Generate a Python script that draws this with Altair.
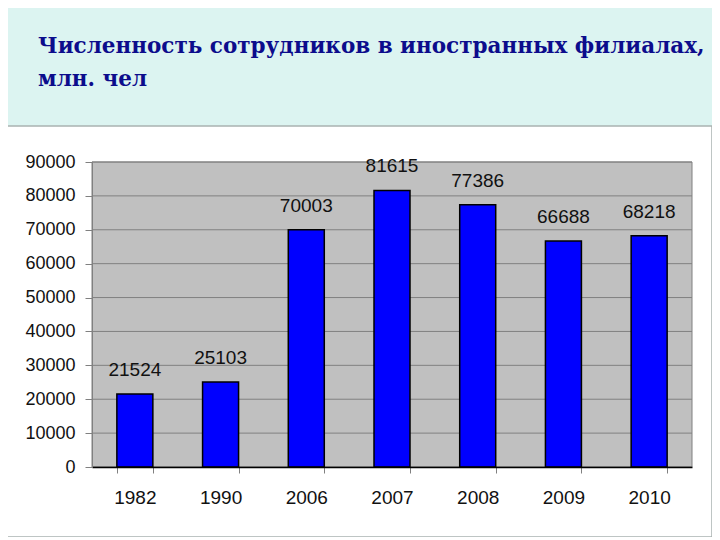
import pandas as pd
import altair as alt

years = ["1982", "1990", "2006", "2007", "2008", "2009", "2010"]
employees = [21524, 25103, 70003, 81615, 77386, 66688, 68218]
y_ticks = [0, 10000, 20000, 30000, 40000, 50000, 60000, 70000, 80000, 90000]
title_lines = ["Численность сотрудников в иностранных филиалах,", "млн. чел"]

df = pd.DataFrame({"year": years, "value": employees})
df_grid = pd.DataFrame({"tick": y_ticks})

W, H = 600, 305

x_scale = alt.Scale(paddingInner=0.58, paddingOuter=0.29)
y_scale = alt.Scale(domain=[0, 90000], nice=False)

x_axis = alt.Axis(
    title=None,
    labelAngle=0,
    labelFont="Liberation Sans",
    labelFontSize=19,
    labelColor="#111111",
    labelPadding=15,
    tickBand="extent",
    tickSize=6,
    tickColor="#808080",
    domainColor="#000000",
    domainWidth=1.5,
    zindex=1,
)
y_axis = alt.Axis(
    title=None,
    values=y_ticks,
    format="d",
    grid=False,
    labelFont="Liberation Sans",
    labelFontSize=18,
    labelColor="#111111",
    labelPadding=10,
    tickSize=7,
    tickColor="#808080",
    domainColor="#808080",
    zindex=1,
)

panel = (
    alt.Chart(df.head(1))
    .mark_rect(fill="white", stroke="#a9b3b1", strokeWidth=1.5)
    .encode(x=alt.value(-85), x2=alt.value(620), y=alt.value(-36), y2=alt.value(375))
)

plot_bg = (
    alt.Chart(df.head(1))
    .mark_rect(fill="#c0c0c0", stroke="#808080", strokeWidth=1)
    .encode(x=alt.value(0), x2=alt.value(W), y=alt.value(0), y2=alt.value(H))
)

grid = (
    alt.Chart(df_grid)
    .mark_rule(color="#808080", strokeWidth=1)
    .encode(y=alt.Y("tick:Q", scale=y_scale, axis=y_axis))
)

bars = (
    alt.Chart(df)
    .mark_bar(fill="#0000ff", stroke="#000000", strokeWidth=1.5)
    .encode(
        x=alt.X("year:N", scale=x_scale, sort=years, axis=x_axis),
        y=alt.Y("value:Q", scale=y_scale, axis=y_axis),
    )
)

labels = (
    alt.Chart(df)
    .mark_text(font="Liberation Sans", fontSize=19, color="#111111", baseline="alphabetic", dy=-18)
    .encode(
        x=alt.X("year:N", scale=x_scale, sort=years, axis=x_axis),
        y=alt.Y("value:Q", scale=y_scale, axis=y_axis),
        text=alt.Text("value:Q", format="d"),
    )
)

title = (
    alt.Chart(df.head(1))
    .mark_text(
        text=title_lines,
        font="DejaVu Serif",
        fontWeight="bold",
        fontSize=21.5,
        color="#0c0c8c",
        align="left",
        baseline="alphabetic",
        lineHeight=33,
    )
    .encode(x=alt.value(-54), y=alt.value(-109))
)

chart = (
    alt.layer(panel, plot_bg, grid, bars, labels, title)
    .properties(
        width=W,
        height=H,
        background="#dcf4f1",
        padding={"left": 84, "top": 154, "right": 20, "bottom": 70},
        autosize=alt.AutoSizeParams(type="none"),
    )
    .configure_view(stroke=None)
)

chart.save("out.html", embed_options={"renderer": "svg", "actions": False})
